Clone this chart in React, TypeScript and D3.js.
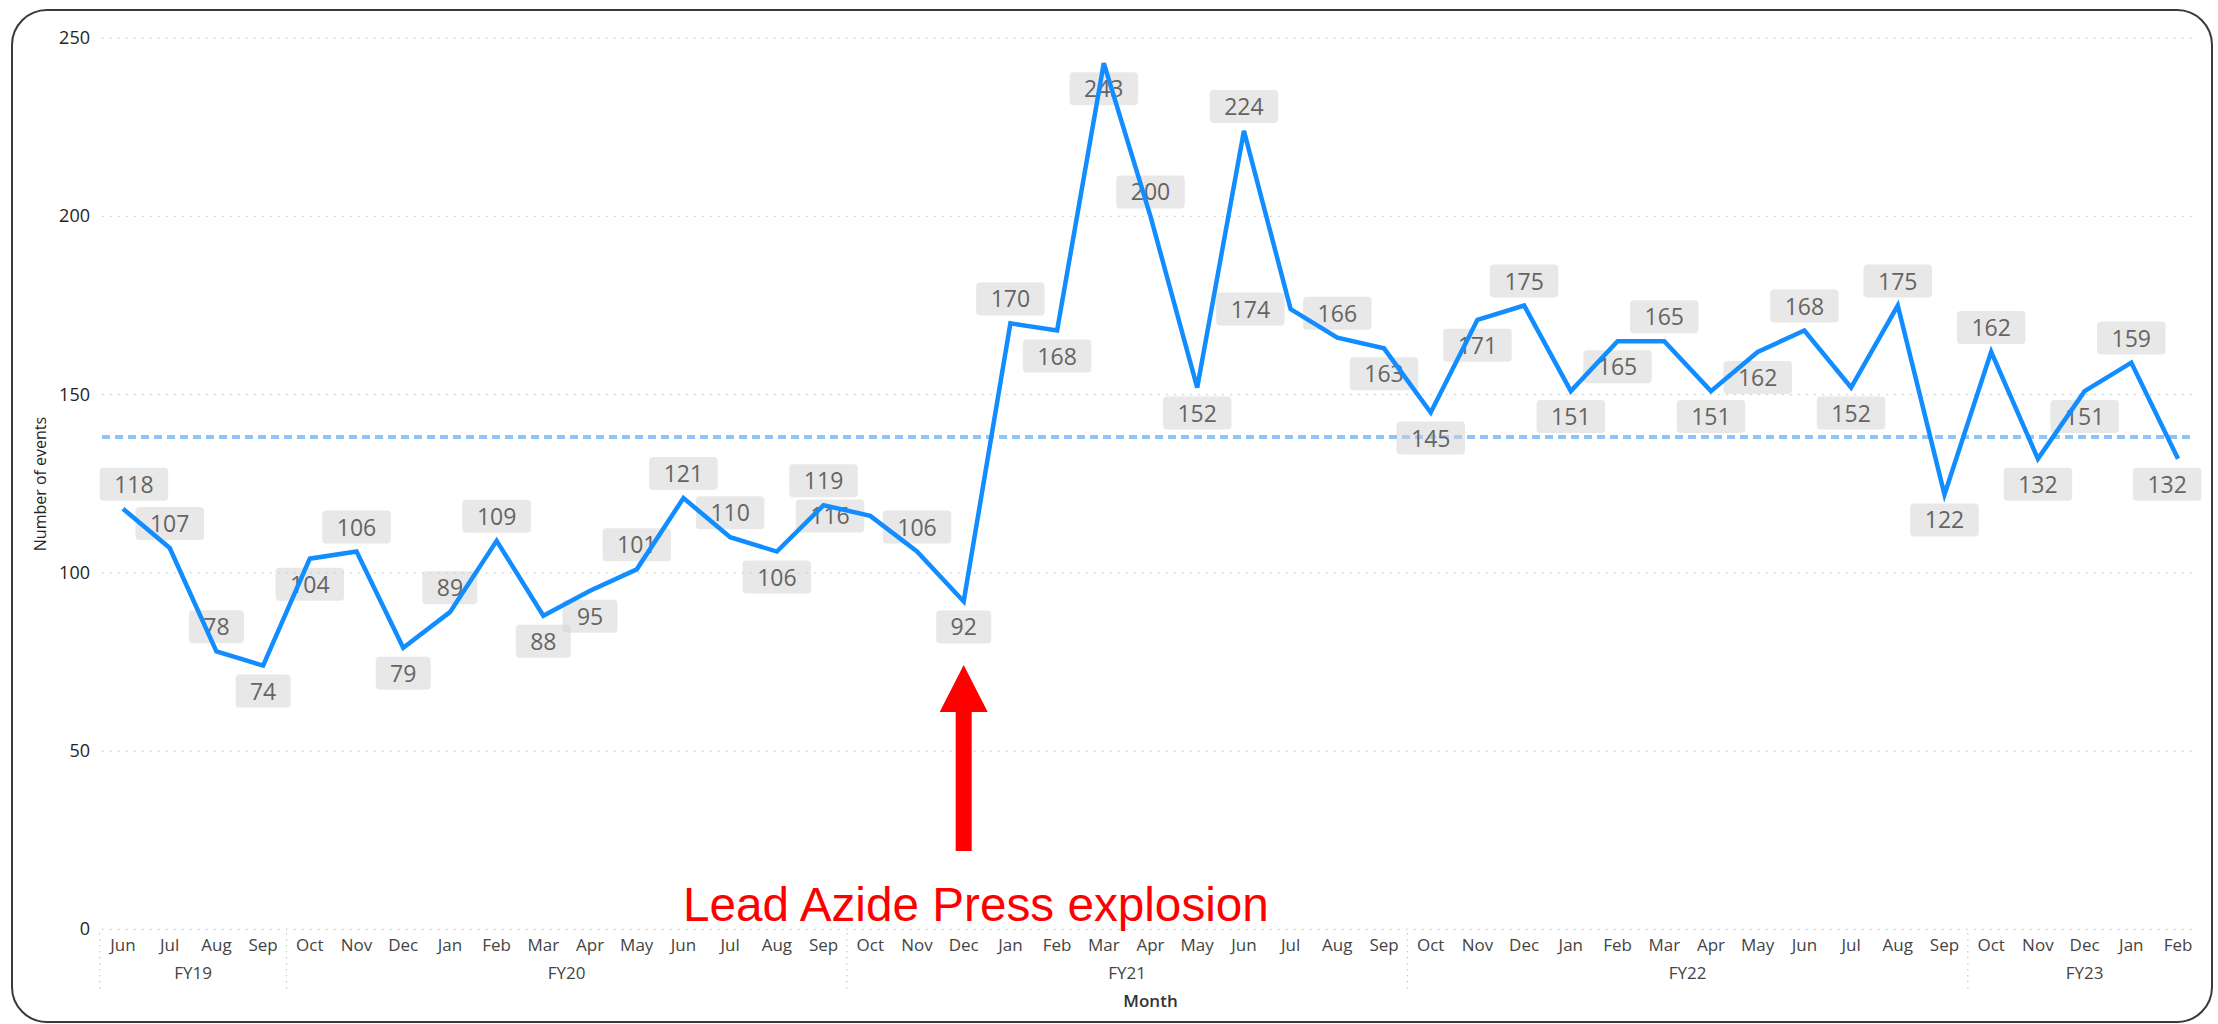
import React from 'react';
import * as d3 from 'd3';

const MONTHS = [
  'Jun', 'Jul', 'Aug', 'Sep',
  'Oct', 'Nov', 'Dec', 'Jan', 'Feb', 'Mar', 'Apr', 'May', 'Jun', 'Jul', 'Aug', 'Sep',
  'Oct', 'Nov', 'Dec', 'Jan', 'Feb', 'Mar', 'Apr', 'May', 'Jun', 'Jul', 'Aug', 'Sep',
  'Oct', 'Nov', 'Dec', 'Jan', 'Feb', 'Mar', 'Apr', 'May', 'Jun', 'Jul', 'Aug', 'Sep',
  'Oct', 'Nov', 'Dec', 'Jan', 'Feb',
];
const FISCAL_YEARS = ['FY19', 'FY20', 'FY21', 'FY22', 'FY23'];
const MONTHS_PER_FY = [4, 12, 12, 12, 5];
const EVENTS = [
  118, 107, 78, 74,
  104, 106, 79, 89, 109, 88, 95, 101, 121, 110, 106, 119,
  116, 106, 92, 170, 168, 243, 200, 152, 224, 174, 166, 163,
  145, 171, 175, 151, 165, 165, 151, 162, 168, 152, 175, 122,
  162, 132, 151, 159, 132,
];
const Y_TICKS = [0, 50, 100, 150, 200, 250];
// label placement: A = above, B = below, L = left of point
const LABEL_PLACEMENT = ('AAAB' + 'BABAABBAAABA' + 'LABABBABALAB' + 'BBABBABBABAB' + 'ABBAB').split('');
const ANNOTATION = 'Lead Azide Press explosion';
const ANNOTATION_INDEX = 18;

const W = 2218;
const H = 1024;
const FONT = '"Segoe UI", "Open Sans", "Noto Sans", sans-serif';

export default function App() {
  const idx = d3.range(EVENTS.length);
  const x = d3.scalePoint<number>().domain(idx).range([123, 2178]);
  const step = x.step();
  const plotLeft = 123 - step / 2;
  const plotRight = 2178 + step / 2;
  const y = d3.scaleLinear().domain([0, 250]).range([929.4, 38.2]);
  const mean = d3.mean(EVENTS) as number;

  const line = d3.line<number>().x((_, i) => x(i) as number).y((d) => y(d));

  let start = 0;
  const groups = FISCAL_YEARS.map((fy, g) => {
    const s = start;
    const e = start + MONTHS_PER_FY[g] - 1;
    start += MONTHS_PER_FY[g];
    return { fy, s, e };
  });

  const labelH = 33;
  const labels = EVENTS.map((v, i) => {
    const txt = String(v);
    const w = 28 + txt.length * 13.5;
    const px = x(i) as number;
    const py = y(v);
    const p = LABEL_PLACEMENT[i];
    let bx = px - w / 2;
    let by = py - 8 - labelH;
    if (p === 'B') by = py + 9;
    if (p === 'L') {
      bx = px - 6 - w;
      by = py - labelH / 2;
    }
    bx = Math.max(plotLeft, Math.min(plotRight - w, bx));
    return { txt, w, bx, by };
  });

  const ax = x(ANNOTATION_INDEX) as number;
  const tipY = 665;
  const baseY = 712;
  const botY = 851;
  const headHalf = 24;
  const shaftHalf = 8;
  const arrowPath = `M${ax},${tipY} L${ax + headHalf},${baseY} L${ax + shaftHalf},${baseY} L${ax + shaftHalf},${botY} L${ax - shaftHalf},${botY} L${ax - shaftHalf},${baseY} L${ax - headHalf},${baseY} Z`;

  return (
    <svg
      width={W}
      height={H}
      viewBox={`0 0 ${W} ${H}`}
      style={{ position: 'absolute', left: 0, top: 0, display: 'block', background: '#fff' }}
    >
      <rect x={12} y={10} width={2200} height={1012} rx={35} ry={35} fill="#fff" stroke="#3a3a3a" strokeWidth={2} />

      {Y_TICKS.map((t) => (
        <g key={t}>
          <line x1={102} x2={2195} y1={y(t)} y2={y(t)} stroke="#c8c8c8" strokeWidth={1.2} strokeDasharray="1.5,6.5" />
          <text x={90} y={y(t) + 6} textAnchor="end" fontFamily={FONT} fontSize={18} fill="#252423">
            {t}
          </text>
        </g>
      ))}

      <text
        transform={`translate(46,484) rotate(-90)`}
        textAnchor="middle"
        fontFamily={FONT}
        fontSize={16}
        fill="#252423"
      >
        Number of events
      </text>

      {MONTHS.map((m, i) => (
        <text key={i} x={x(i) as number} y={951} textAnchor="middle" fontFamily={FONT} fontSize={17} fill="#444">
          {m}
        </text>
      ))}
      {groups.map((g) => {
        const cx = ((x(g.s) as number) + (x(g.e) as number)) / 2;
        const sx = (x(g.s) as number) - step / 2;
        return (
          <g key={g.fy}>
            <line x1={sx} x2={sx} y1={933} y2={990} stroke="#c8c8c8" strokeWidth={1.2} strokeDasharray="1.5,4.5" />
            <text x={cx} y={979} textAnchor="middle" fontFamily={FONT} fontSize={17} fill="#444">
              {g.fy}
            </text>
          </g>
        );
      })}
      <text x={(plotLeft + plotRight) / 2} y={1007} textAnchor="middle" fontFamily={FONT} fontSize={17} fontWeight={600} fill="#333">
        Month
      </text>

      <line x1={102} x2={2195} y1={y(mean)} y2={y(mean)} stroke="#8cc4fb" strokeWidth={4} strokeDasharray="8,5" />

      {labels.map((l, i) => (
        <rect key={'b' + i} x={l.bx} y={l.by} width={l.w} height={labelH} rx={4} ry={4} fill="#d2d2d2" fillOpacity={0.5} />
      ))}
      {labels.map((l, i) => (
        <text
          key={'t' + i}
          x={l.bx + l.w / 2}
          y={l.by + labelH / 2 + 8.5}
          textAnchor="middle"
          fontFamily={FONT}
          fontSize={23}
          fill="#666462"
        >
          {l.txt}
        </text>
      ))}

      <path d={line(EVENTS) as string} fill="none" stroke="#118dff" strokeWidth={4.5} />

      <path d={arrowPath} fill="#ff0000" />
      <text x={683} y={921} fontFamily='"Liberation Sans", Arial, sans-serif' fontSize={47.7} fill="#ff0000">
        {ANNOTATION}
      </text>
    </svg>
  );
}
